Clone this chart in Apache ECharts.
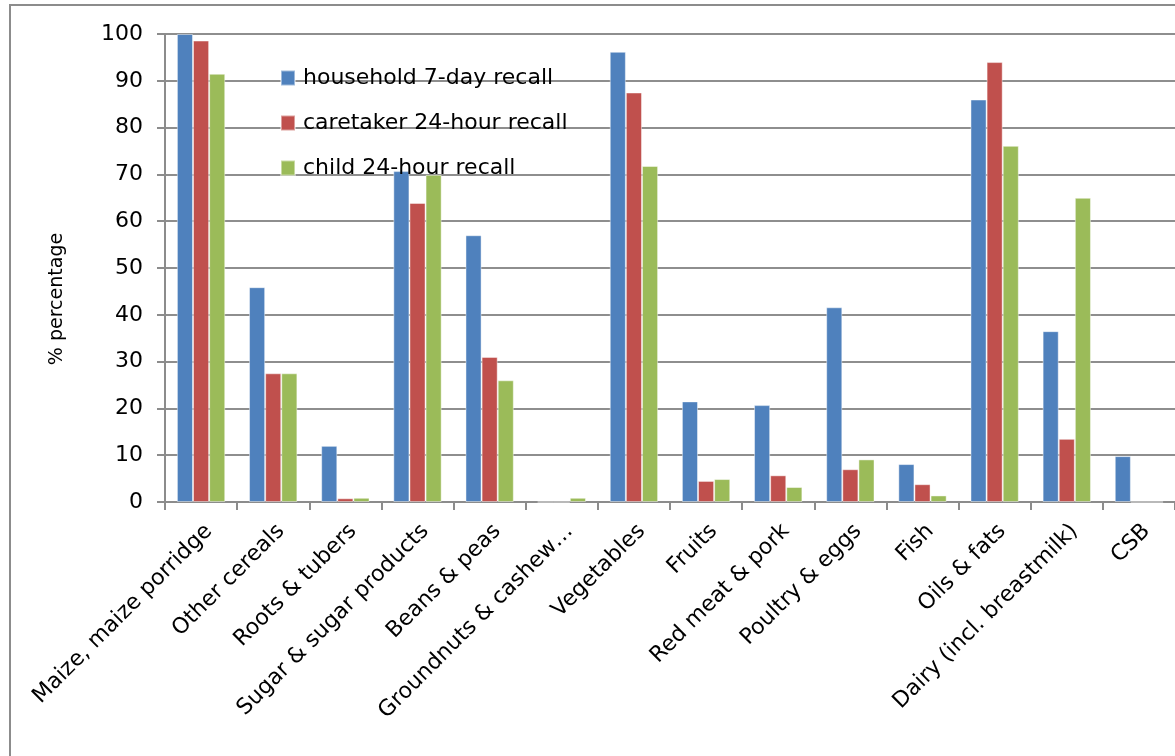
<!DOCTYPE html>
<html>
<head>
<meta charset="utf-8">
<script src="https://cdn.jsdelivr.net/npm/echarts@6/dist/echarts.min.js"></script>
<style>
  html, body { margin: 0; padding: 0; background: #fff; }
  #chart { width: 1175px; height: 756px; }
</style>
</head>
<body>
<div id="chart"></div>
<script>
// Food groups consumed, by recall method (% of respondents)
const categories = [
  'Maize, maize porridge',
  'Other cereals',
  'Roots & tubers',
  'Sugar & sugar products',
  'Beans & peas',
  'Groundnuts & cashew\u2026',
  'Vegetables',
  'Fruits',
  'Red meat & pork',
  'Poultry & eggs',
  'Fish',
  'Oils & fats',
  'Dairy (incl. breastmilk)',
  'CSB'
];
const seriesNames = ['household 7-day recall', 'caretaker 24-hour recall', 'child 24-hour recall'];
const household = [100, 45.9, 12.0, 70.7, 57.0, 0, 96.2, 21.5, 20.7, 41.6, 8.1, 86.0, 36.5, 9.8];
const caretaker = [98.6, 27.5, 0.8, 63.9, 31.0, 0, 87.5, 4.5, 5.7, 7.0, 3.8, 94.0, 13.5, 0];
const child     = [91.5, 27.5, 0.9, 69.9, 26.0, 0.9, 71.8, 4.9, 3.2, 9.1, 1.4, 76.1, 65.0, 0];
const yTicks = { min: 0, max: 100, interval: 10 };
const yTitle = '% percentage';

const colors = ['#4F81BD', '#C0504D', '#9BBB59'];
const FONT = '"DejaVu Sans", Verdana, sans-serif';

function barSeries(name, data, color) {
  return {
    name: name,
    type: 'bar',
    data: data,
    barGap: '0%',
    barCategoryGap: '33%',
    itemStyle: { color: color, borderColor: 'rgba(255,255,255,0.45)', borderWidth: 1 }
  };
}

const chart = echarts.init(document.getElementById('chart'), null, { renderer: 'canvas' });
chart.setOption({
  animation: false,
  color: colors,
  textStyle: { fontFamily: FONT },
  graphic: [
    {
      // chart-area frame
      type: 'rect',
      shape: { x: 10, y: 5, width: 1300, height: 900 },
      style: { fill: 'none', stroke: '#8c8c8c', lineWidth: 2 },
      silent: true,
      z: -10
    },
    {
      // value-axis title
      type: 'text',
      x: 57,
      y: 299,
      rotation: Math.PI / 2,
      style: {
        text: yTitle,
        fill: '#000',
        font: '19px ' + FONT,
        align: 'center',
        verticalAlign: 'middle'
      },
      silent: true
    }
  ],
  grid: { left: 165, top: 34, width: 1020, bottom: 254, containLabel: false },
  legend: {
    orient: 'vertical',
    left: 275,
    top: 62,
    itemWidth: 14,
    itemHeight: 15,
    itemGap: 23,
    icon: 'rect',
    data: seriesNames,
    textStyle: { fontFamily: FONT, fontSize: 22, color: '#000', padding: [0, 0, 0, 3] }
  },
  xAxis: {
    type: 'category',
    data: categories,
    axisLine: { lineStyle: { color: '#8c8c8c', width: 2 } },
    axisTick: { show: true, alignWithLabel: false, length: 8, lineStyle: { color: '#8c8c8c', width: 2 } },
    axisLabel: {
      interval: 0,
      rotate: 45,
      margin: 18,
      verticalAlign: 'top',
      fontFamily: FONT,
      fontSize: 22,
      color: '#000'
    },
    splitLine: { show: false }
  },
  yAxis: {
    type: 'value',
    min: yTicks.min,
    max: yTicks.max,
    interval: yTicks.interval,
    axisLine: { show: true, lineStyle: { color: '#8c8c8c', width: 2 } },
    axisTick: { show: true, length: 8, lineStyle: { color: '#8c8c8c', width: 2 } },
    axisLabel: { margin: 22, fontFamily: FONT, fontSize: 22, color: '#000' },
    splitLine: { show: true, lineStyle: { color: '#8e8e8e', width: 2 } }
  },
  series: [
    barSeries(seriesNames[0], household, colors[0]),
    barSeries(seriesNames[1], caretaker, colors[1]),
    barSeries(seriesNames[2], child, colors[2])
  ]
});
</script>
</body>
</html>
